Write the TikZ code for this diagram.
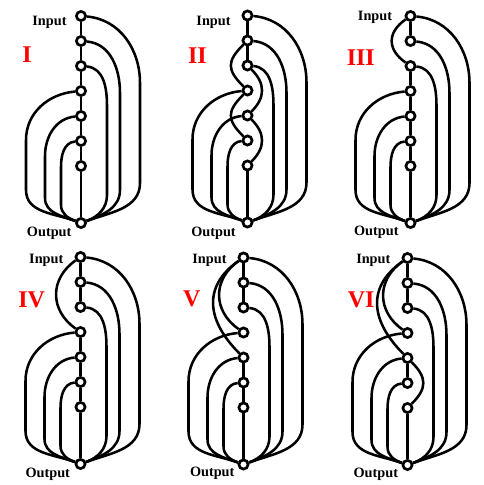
\documentclass[tikz,border=0pt]{standalone}
\usepackage{fontspec}
\setmainfont{Liberation Serif}
\usetikzlibrary{calc,backgrounds}
\tikzset{
 vtx/.style={circle, draw, fill=white, line width=2pt, minimum size=6.9pt, inner sep=0pt},
 edge/.style={line width=1.9pt},
 lbl/.style={font=\fontsize{10.7}{12}\selectfont\bfseries, anchor=base, inner sep=0pt},
 rom/.style={font=\fontsize{18}{20}\selectfont\bfseries, text=red, anchor=base, inner sep=0pt},
}
\newcommand{\chainnodes}[3]{%
 \foreach \k in {0,...,6}{\node[vtx] (#1\k) at (#2,{-(#3+25*\k)}) {};}
 \node[vtx] (#1o) at (#2,{-(#3+207)}) {};
}
\newcommand{\rarc}[5]{%
 \draw[edge] (#1#2) to[out=-5,in=90] ($(#1#2)+(#3,-#4)$) -- ($(#1o)+(#3,#5)$) to[out=-90,in=20] (#1o);
}
\newcommand{\larc}[5]{%
 \draw[edge] (#1#2) to[out=185,in=90] ($(#1#2)+(-#3,-#4)$) -- ($(#1o)+(-#3,#5)$) to[out=-90,in=160] (#1o);
}
\newcommand{\stdarcs}[1]{%
 \rarc{#1}{0}{59}{67}{40}
 \rarc{#1}{1}{39}{52}{33}
 \rarc{#1}{2}{26}{40}{28}
 \larc{#1}{3}{55}{49}{33}
 \larc{#1}{4}{36}{40}{25}
 \larc{#1}{5}{20}{26}{18}
}
\begin{document}
\begin{tikzpicture}[x=0.75pt,y=0.75pt]
\useasboundingbox (0,0) rectangle (484,-485);
% nodes
\chainnodes{A}{81}{16}
\chainnodes{B}{247.5}{15.5}
\chainnodes{C}{410.5}{16}
\chainnodes{D}{80.5}{257}
\chainnodes{E}{243.5}{257.5}
\chainnodes{F}{407.5}{258}
\begin{scope}[on background layer]
% Panel I
\draw[edge] (A0) -- (A1) -- (A2) -- (A3) -- (A4) -- (A5) -- (A6) -- (Ao);
\stdarcs{A}
% Panel II
\draw[edge] (B0) -- (B1) -- (B2);
\draw[edge] (B6) -- (Bo);
\draw[edge] (B1) to[out=-135,in=135,looseness=1.45] (B3);
\draw[edge] (B3) to[out=-135,in=135,looseness=1.45] (B5);
\draw[edge] (B2) to[out=-45,in=45,looseness=1.2] (B4);
\draw[edge] (B4) to[out=-45,in=45,looseness=1.2] (B6);
\stdarcs{B}
% Panel III
\draw[edge] (C0) -- (C1);
\draw[edge] (C2) -- (C3) -- (C4) -- (C5) -- (C6) -- (Co);
\draw[edge] (C0) to[out=215,in=145,looseness=1.35] (C2);
\stdarcs{C}
% Panel IV
\draw[edge] (D0) -- (D1) -- (D2);
\draw[edge] (D3) -- (D4) -- (D5) -- (D6) -- (Do);
\draw[edge] (D0) to[out=215,in=145,looseness=1.2] (D3);
\stdarcs{D}
% Panel V
\draw[edge] (E0) -- (E1) -- (E2);
\draw[edge] (E4) -- (E5) -- (E6) -- (Eo);
\draw[edge] (E0) to[out=215,in=145,looseness=1.2] (E3);
\draw[edge] (E0) to[out=215,in=135,looseness=1.25] (E4);
\stdarcs{E}
% Panel VI
\draw[edge] (F0) -- (F1) -- (F2);
\draw[edge] (F4) -- (F5);
\draw[edge] (F6) -- (Fo);
\draw[edge] (F0) to[out=215,in=145,looseness=1.2] (F3);
\draw[edge] (F0) to[out=215,in=135,looseness=1.25] (F4);
\draw[edge] (F4) to[out=-45,in=45,looseness=1.35] (F6);
\stdarcs{F}
\end{scope}
% labels
\node[lbl] (AIn) at (49.5,-25.7) {Input};
\node[lbl] (AOut) at (49.2,-236) {Output};
\node[rom] (ARom) at (27,-62.7) {I};
\node[lbl] (BIn) at (213.5,-26) {Input};
\node[lbl] (BOut) at (213.5,-236) {Output};
\node[rom] (BRom) at (197.5,-63.3) {II};
\node[lbl] (CIn) at (375,-21) {Input};
\node[lbl] (COut) at (376.3,-235) {Output};
\node[rom] (CRom) at (360.8,-65) {III};
\node[lbl] (DIn) at (46.3,-263.3) {Input};
\node[lbl] (DOut) at (47.8,-477) {Output};
\node[rom] (DRom) at (31.7,-307.7) {IV};
\node[lbl] (EIn) at (209.5,-263.3) {Input};
\node[lbl] (EOut) at (212.2,-476.7) {Output};
\node[rom] (ERom) at (191.7,-306.7) {V};
\node[lbl] (FIn) at (373.3,-263.3) {Input};
\node[lbl] (FOut) at (375.8,-477) {Output};
\node[rom] (FRom) at (361.2,-307.7) {VI};
\end{tikzpicture}
\end{document}
